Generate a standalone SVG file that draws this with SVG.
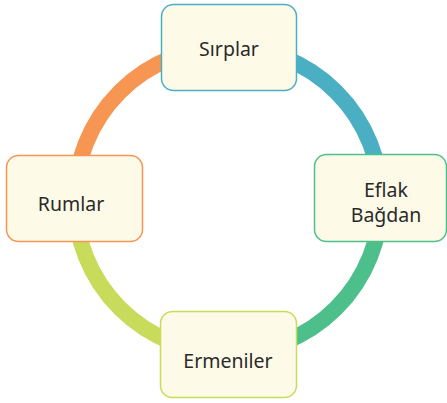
<svg xmlns="http://www.w3.org/2000/svg" width="447" height="403" viewBox="0 0 447 403">
<style>
.arc{fill:none;stroke-width:16}
.node{fill:#FEFAE8;stroke-width:1.5}
.t{font-family:"Noto Sans","Liberation Sans",sans-serif;font-size:19.5px;fill:#2a2a2a;text-anchor:middle}
</style>
<rect width="447" height="403" fill="#fff"/>
<g id="connectors">
<path class="arc" stroke="#F79552" d="M75,200 A153,153 0 0 1 228,47"/>
<path class="arc" stroke="#4BAFC4" d="M228,47 A153,153 0 0 1 381,200"/>
<path class="arc" stroke="#4DBF8A" d="M381,200 A153,153 0 0 1 228,353"/>
<path class="arc" stroke="#C8DB5A" d="M228,353 A153,153 0 0 1 75,200"/>
</g>
<g id="sirplar">
<rect class="node" stroke="#4BAFC4" x="161.5" y="4.5" width="135" height="86" rx="12"/>
<text class="t" x="229" y="56">Sırplar</text>
</g>
<g id="eflak">
<rect class="node" stroke="#4DBF8A" x="314.5" y="154.5" width="132" height="87" rx="12"/>
<text class="t" x="386" y="197">Eflak</text>
<text class="t" x="386" y="222">Bağdan</text>
</g>
<g id="rumlar">
<rect class="node" stroke="#F79552" x="6.5" y="155.5" width="136" height="86" rx="12"/>
<text class="t" x="71" y="211">Rumlar</text>
</g>
<g id="ermeniler">
<rect class="node" stroke="#C8DB5A" x="160.5" y="311.5" width="136" height="86" rx="12"/>
<text class="t" x="228" y="368">Ermeniler</text>
</g>
</svg>
